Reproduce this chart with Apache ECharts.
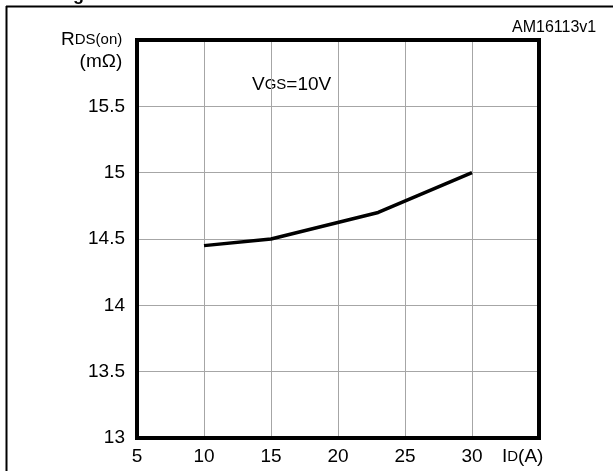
<!DOCTYPE html>
<html>
<head>
<meta charset="utf-8">
<script src="https://cdn.jsdelivr.net/npm/echarts@6/dist/echarts.min.js"></script>
<style>html,body{margin:0;padding:0;background:#fff}#c{width:613px;height:471px}</style>
</head>
<body>
<div id="c"></div>
<script>
const currentA = [10, 15, 23, 30];
const rdsOn = [14.45, 14.5, 14.7, 15.0];
const xTicks = [5, 10, 15, 20, 25, 30];
const yTicks = [13, 13.5, 14, 14.5, 15, 15.5];

const FONT = '"Liberation Sans", Arial, Helvetica, sans-serif';
const chart = echarts.init(document.getElementById('c'), null, {renderer: 'canvas'});
chart.setOption({
  animation: false,
  backgroundColor: '#fff',
  grid: {left: 137, right: 74, top: 40, bottom: 33, show: true, borderColor: '#000', borderWidth: 4, backgroundColor: 'transparent', z: 5},
  xAxis: {
    type: 'value', min: 5, max: 35, interval: 5,
    axisLine: {show: true, onZero: false, lineStyle: {color: '#000', width: 4}},
    axisTick: {show: false},
    axisLabel: {color: '#000', fontFamily: FONT, fontSize: 19, margin: 9,
      formatter: v => xTicks.indexOf(v) >= 0 ? String(v) : ''},
    splitLine: {show: true, lineStyle: {color: '#a6a6a6', width: 1}}
  },
  yAxis: {
    type: 'value', min: 13, max: 16, interval: 0.5,
    axisLine: {show: true, onZero: false, lineStyle: {color: '#000', width: 4}},
    axisTick: {show: false},
    axisLabel: {color: '#000', fontFamily: FONT, fontSize: 19, margin: 12,
      formatter: v => yTicks.indexOf(v) >= 0 ? String(v) : ''},
    splitLine: {show: true, lineStyle: {color: '#a6a6a6', width: 1}}
  },
  series: [{
    type: 'line',
    data: currentA.map((x, i) => [x, rdsOn[i]]),
    showSymbol: false,
    lineStyle: {color: '#000', width: 3.5},
    z: 10
  }],
  graphic: [
    {type: 'line', shape: {x1: 6, y1: 6.5, x2: 613, y2: 6.5}, style: {stroke: '#000', lineWidth: 2}},
    {type: 'line', shape: {x1: 6.5, y1: 6, x2: 6.5, y2: 471}, style: {stroke: '#000', lineWidth: 2}},
    {type: 'text', left: 73, top: -14, style: {text: 'g', font: 'bold 18px ' + FONT, fill: '#000'}},
    {type: 'text', left: 512, top: 20, style: {text: 'AM16113v1', font: '16px ' + FONT, fill: '#000'}},
    {type: 'text', left: 61, top: 30, style: {
      text: '{b|R}{s|DS(on)}\n{b|(mΩ)}', align: 'right',
      rich: {b: {fontFamily: FONT, fontSize: 19, fill: '#000', lineHeight: 22}, s: {fontFamily: FONT, fontSize: 15, fill: '#000', lineHeight: 22}},
      textAlign: 'right'
    }},
    {type: 'text', left: 252, top: 75, style: {
      text: '{b|V}{s|GS}{b|=10V}',
      rich: {b: {fontFamily: FONT, fontSize: 19, fill: '#000'}, s: {fontFamily: FONT, fontSize: 15, fill: '#000'}}
    }},
    {type: 'text', left: 502, top: 447, style: {
      text: '{b|I}{s|D}{b|(A)}',
      rich: {b: {fontFamily: FONT, fontSize: 19, fill: '#000'}, s: {fontFamily: FONT, fontSize: 15, fill: '#000'}}
    }}
  ]
});
</script>
</body>
</html>
